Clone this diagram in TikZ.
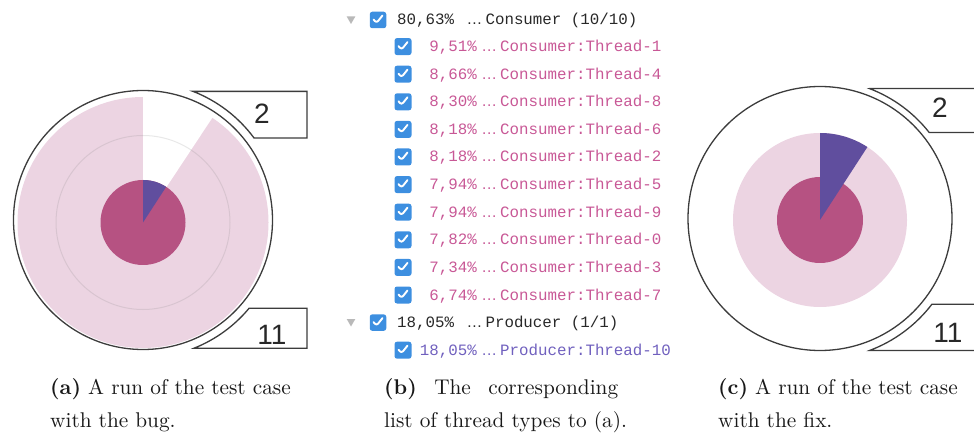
\documentclass[tikz,border=0pt]{standalone}
\usepackage{fontspec}
\usetikzlibrary{shapes.geometric}
\newfontfamily\monof{Liberation Mono}
\newfontfamily\sansf{Liberation Sans}
\newfontfamily\capf{lmroman10-regular.otf}[BoldFont=lmroman10-bold.otf]
\definecolor{pinkL}{RGB}{236,212,226}
\definecolor{magD}{RGB}{182,82,130}
\definecolor{purp}{RGB}{96,78,158}
\definecolor{cbblue}{RGB}{61,143,224}
\definecolor{contxt}{RGB}{200,88,150}
\definecolor{protxt}{RGB}{112,96,190}
\definecolor{hdtxt}{RGB}{40,40,40}
\definecolor{linegray}{RGB}{60,60,60}
\newcommand\ddd{\makebox[22pt]{\sansf …}}
\begin{document}
\begin{tikzpicture}[x=1pt,y=-1pt,
  ring/.style={draw=linegray, line width=1.3pt},
  callout/.style={draw=linegray, line width=1.3pt, fill=white},
  numlab/.style={font=\sansf\fontsize{28}{28}\selectfont, text=hdtxt, inner sep=0pt},
  cbox/.style={rectangle, rounded corners=2.5pt, fill=cbblue, minimum size=17pt, inner sep=0pt,
    path picture={\draw[white, line width=1.9pt, line cap=round, line join=round]
      ([shift={(-4.5pt,0.5pt)}]path picture bounding box.center) -- ++(3pt,-3.5pt) -- ++(6pt,7.5pt);}},
  tri/.style={regular polygon, regular polygon sides=3, shape border rotate=180, fill=gray!55, minimum size=10pt, inner sep=0pt},
  rowtxt/.style={font=\monof\fontsize{15.8}{16}\selectfont, inner sep=0pt},
  captxt/.style={font=\capf\fontsize{21.3}{33}\selectfont, text=black!90, inner sep=0pt, anchor=base west}]
\useasboundingbox (0,0) rectangle (974,438);
\clip (0,0) rectangle (974,438);
% ---------- (a) ----------
\coordinate (A) at (143,220);
\coordinate (Ap) at (143,222.5);
\fill[pinkL] (Ap) circle[radius=125.5];
\fill[white] (Ap) -- ++(-90:131) arc[start angle=-90, end angle=-56.5, radius=131] -- cycle;
\draw[gray, opacity=0.18, line width=1pt] (Ap) circle[radius=87];
\fill[magD] (Ap) circle[radius=42.5];
\fill[purp] (Ap) -- ++(-90:42.5) arc[start angle=-90, end angle=-57, radius=42.5] -- cycle;
\draw[ring] (A) circle[radius=129.5];
\draw[callout] (193.1,91.4) -- (307,91.4) -- (307,138.1) -- (254.1,138.1)
  arc[start angle=-36.4, end angle=-68.7, radius=138] -- cycle;
\draw[callout] (193.8,348.3) arc[start angle=68.4, end angle=39.8, radius=138] -- (307,308.3) -- (307,348.3) -- cycle;
\node[numlab] (a2) at (262,114) {2};
\node[numlab] (a11) at (272,335) {11};
% ---------- (c) ----------
\coordinate (C) at (820,218.5);
\coordinate (Cp) at (820,220);
\fill[pinkL] (Cp) circle[radius=87];
\fill[magD] (Cp) circle[radius=43];
\fill[purp] (Cp) -- ++(-90:87) arc[start angle=-90, end angle=-57, radius=87] -- cycle;
\draw[ring] (C) circle[radius=132];
\draw[callout] (869.6,88.6) -- (990,88.6) -- (990,132.5) -- (929.2,132.5)
  arc[start angle=-38.2, end angle=-69.1, radius=139] -- cycle;
\draw[callout] (869.8,350.4) arc[start angle=69.3, end angle=37.5, radius=141] -- (990,304.3) -- (990,350.4) -- cycle;
\node[numlab] (c2) at (940,108) {2};
\node[numlab] (c11) at (948,333) {11};
% ---------- (b) list ----------
\node[tri] (t1) at (351,19) {};
\node[cbox, minimum size=16.5pt] (h1) at (378,20) {};
\node[rowtxt, text=hdtxt, anchor=base west] (ht1) at (397,25) {80,63\% \ddd Consumer (10/10)};
\foreach \p/\t [count=\i] in {9{,}51/1, 8{,}66/4, 8{,}30/8, 8{,}18/6, 8{,}18/2, 7{,}94/5, 7{,}94/9, 7{,}82/0, 7{,}34/3, 6{,}74/7}{
  \pgfmathsetmacro\yy{19+27.6*\i}
  \node[cbox] (cb\i) at (403,\yy) {};
  \node[rowtxt, text=contxt, anchor=base east] (pc\i) at (477,\yy+5) {\p\%};
  \node[rowtxt, text=contxt, anchor=base west] (nm\i) at (478,\yy+5) {\ddd Consumer:Thread-\t};
}
\node[tri] (t2) at (351,321.5) {};
\node[cbox, minimum size=16.5pt] (h2) at (378,322.6) {};
\node[rowtxt, text=hdtxt, anchor=base west] (ht2) at (397,327.6) {18,05\% \ddd Producer (1/1)};
\node[cbox] (cbp) at (403,350.2) {};
\node[rowtxt, text=protxt, anchor=base east] (pcp) at (477,355.2) {18,05\%};
\node[rowtxt, text=protxt, anchor=base west] (nmp) at (478,355.2) {\ddd Producer:Thread-10};
% ---------- captions ----------
\node[captxt] (ca1) at (50,394) {\textbf{(a)} A run of the test case};
\node[captxt] (ca2) at (50,427) {with the bug.};
\node[captxt] (cb1) at (384,394) {\makebox[234pt][s]{\textbf{(b)} The corresponding}};
\node[captxt] (cb2) at (384,427) {list of thread types to (a).};
\node[captxt] (cc1) at (718,394) {\textbf{(c)} A run of the test case};
\node[captxt] (cc2) at (718,427) {with the fix.};
\end{tikzpicture}
\end{document}
